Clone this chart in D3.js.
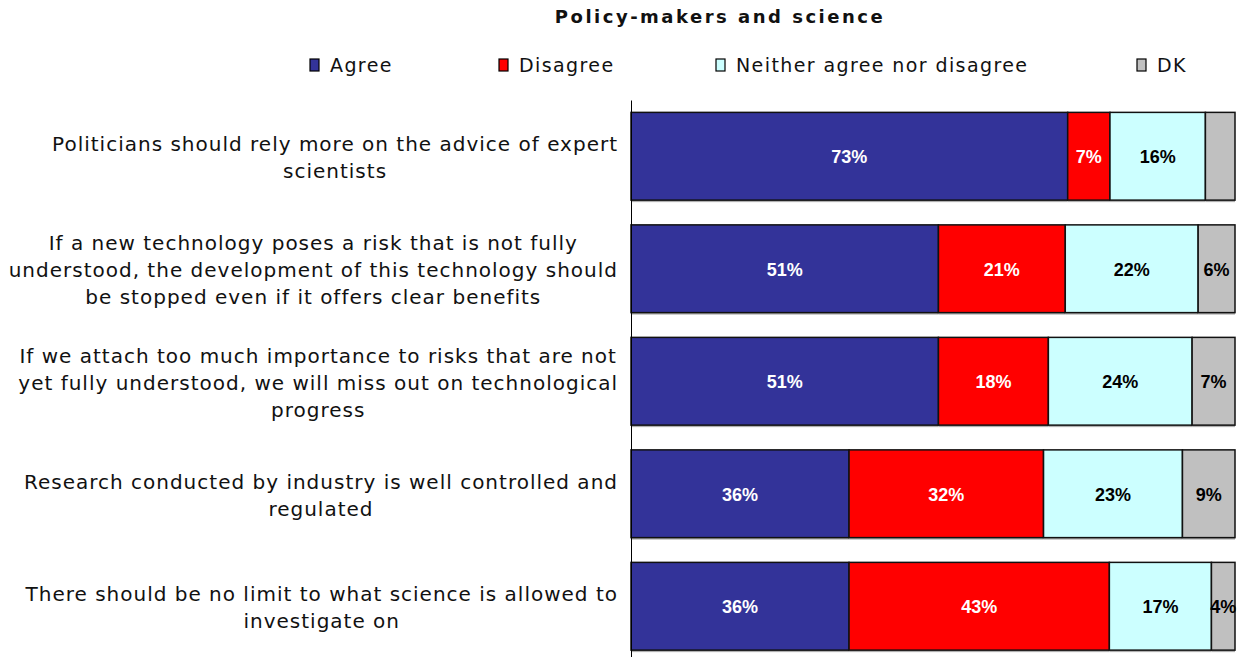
<!DOCTYPE html>
<html>
<head>
<meta charset="utf-8">
<script src="https://cdn.jsdelivr.net/npm/d3@7"></script>
<style>
  body { margin: 0; background: #fff; }
  svg { display: block; }
</style>
</head>
<body>
<svg width="1241" height="657"></svg>
<script>
let svg = d3.select('svg'),
    width = + svg.attr('width'),
    height = + svg.attr('height');

// statements, already broken into lines as in the original
let categories = [
  ['Politicians should rely more on the advice of expert', 'scientists'],
  ['If a new technology poses a risk that is not fully', 'understood, the development of this technology should', 'be stopped even if it offers clear benefits'],
  ['If we attach too much importance to risks that are not', 'yet fully understood, we will miss out on technological', 'progress'],
  ['Research conducted by industry is well controlled and', 'regulated'],
  ['There should be no limit to what science is allowed to', 'investigate on']
];

let seriesNames = ['Agree', 'Disagree', 'Neither agree nor disagree', 'DK'];
let seriesColors = ['#333399', '#ff0000', '#ccffff', '#c0c0c0'];
let labelColors = ['#fff', '#fff', '#000', '#000'];

// segment widths (%)
let agree    = [72.3, 50.9, 50.9, 36.1, 36.1];
let disagree = [7.0, 21.0, 18.2, 32.2, 43.1];
let neither  = [15.8, 22.0, 23.8, 23.0, 16.9];
let dk       = [4.9, 6.1, 7.1, 8.7, 3.9];

// printed labels
let agreeLabels    = ['73%', '51%', '51%', '36%', '36%'];
let disagreeLabels = ['7%', '21%', '18%', '32%', '43%'];
let neitherLabels  = ['16%', '22%', '24%', '23%', '17%'];
let dkLabels       = [null, '6%', '7%', '9%', '4%'];

let values = [agree, disagree, neither, dk];
let labels = [agreeLabels, disagreeLabels, neitherLabels, dkLabels];

let rows = categories.map(function(c, i) {
  let r = {idx: i};
  seriesNames.forEach(function(s, j) { r[s] = values[j][i]; });
  return r;
});

let stack = d3.stack().keys(seriesNames)(rows);

let x = d3.scaleLinear().domain([0, 100]).range([631, 1235]);
let y = d3.scaleBand()
    .domain(d3.range(categories.length))
    .range([100, 662.5])
    .paddingInner(0.22)
    .paddingOuter(0.11);

// title
svg.append('text')
    .attr('x', 720).attr('y', 23)
    .attr('text-anchor', 'middle')
    .attr('font-family', 'DejaVu Sans, Verdana, sans-serif')
    .attr('font-weight', 'bold')
    .attr('font-size', '18px')
    .attr('letter-spacing', '2.5px')
    .attr('fill', '#111')
    .text('Policy-makers and science');

// legend
let legendX = [310, 499, 716, 1137];
let legend = svg.append('g')
    .attr('font-family', 'DejaVu Sans, Verdana, sans-serif')
    .attr('font-size', '19px')
    .attr('letter-spacing', '1.4px')
    .attr('fill', '#111');
seriesNames.forEach(function(s, j) {
  legend.append('rect')
      .attr('x', legendX[j]).attr('y', 59)
      .attr('width', 9).attr('height', 12)
      .attr('fill', seriesColors[j])
      .attr('stroke', '#000').attr('stroke-width', 1.2);
  legend.append('text')
      .attr('x', legendX[j] + 20).attr('y', 72)
      .text(s);
});

// bars
let groups = svg.append('g').selectAll('g')
    .data(stack)
    .enter().append('g')
    .attr('fill', function(d, j) { return seriesColors[j]; });

// soft shadow under each segment
groups.selectAll('.shadow')
    .data(function(d) { return d; })
    .enter().append('rect')
    .attr('class', 'shadow')
    .attr('x', function(d) { return x(d[0]); })
    .attr('y', function(d) { return y(d.data.idx) + y.bandwidth(); })
    .attr('width', function(d) { return x(d[1]) - x(d[0]); })
    .attr('height', 2)
    .attr('fill', '#b0b0b0');

groups.selectAll('.seg')
    .data(function(d) { return d; })
    .enter().append('rect')
    .attr('class', 'seg')
    .attr('x', function(d) { return x(d[0]); })
    .attr('y', function(d) { return y(d.data.idx); })
    .attr('width', function(d) { return x(d[1]) - x(d[0]); })
    .attr('height', y.bandwidth())
    .attr('stroke', '#111')
    .attr('stroke-width', 1.5);

// value labels
let valueLayer = svg.append('g')
    .attr('font-family', 'Liberation Sans, Arial, sans-serif')
    .attr('font-weight', 'bold')
    .attr('font-size', '18px')
    .attr('text-anchor', 'middle');
stack.forEach(function(series, j) {
  series.forEach(function(d, i) {
    let t = labels[j][i];
    if (!t) return;
    valueLayer.append('text')
        .attr('x', (x(d[0]) + x(d[1])) / 2)
        .attr('y', y(i) + y.bandwidth() / 2 + 7)
        .attr('fill', labelColors[j])
        .text(t);
  });
});

// axis line
svg.append('g')
    .attr('transform', 'translate(631,0)')
    .call(d3.axisLeft(y).tickSize(0).tickFormat(''))
    .call(function(g) { g.select('.domain').attr('stroke', '#000').attr('stroke-width', 1); });

// category labels, block centred, right edge at 618
let catLayer = svg.append('g')
    .attr('font-family', 'DejaVu Sans, Verdana, sans-serif')
    .attr('font-size', '20px')
    .attr('letter-spacing', '1px')
    .attr('fill', '#111');
categories.forEach(function(lines, i) {
  let t = catLayer.append('text').attr('text-anchor', 'middle');
  let lh = 27;
  let cy = y(i) + y.bandwidth() / 2;
  let y0 = cy - (lines.length - 1) * lh / 2 + 8.5;
  lines.forEach(function(l, k) {
    t.append('tspan').attr('y', y0 + k * lh).text(l);
  });
  let w = d3.max(t.selectAll('tspan').nodes(), function(n) { return n.getComputedTextLength(); });
  t.selectAll('tspan').attr('x', 618 - w / 2);
});
</script>
</body>
</html>
